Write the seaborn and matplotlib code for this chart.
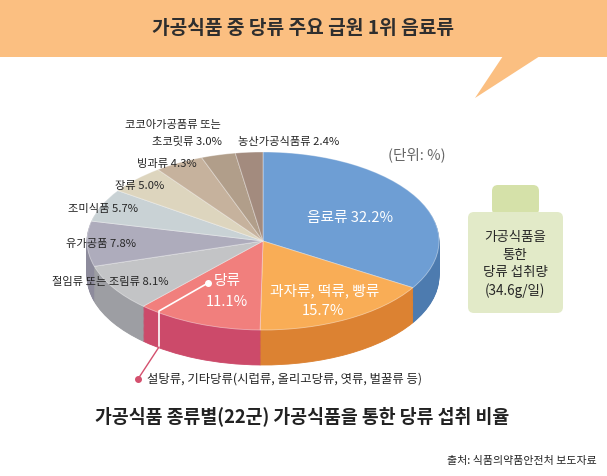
import numpy as np
import matplotlib.pyplot as plt
from matplotlib.patches import Rectangle, Polygon, FancyBboxPatch
import seaborn as sns

sns.set_theme(style="white")
plt.rcParams['font.family'] = ['Noto Sans CJK KR', 'DejaVu Sans']

# 가공식품 종류별 당류 섭취 비율 (%)
categories = ['음료류', '과자류, 떡류, 빵류', '당류', '절임류 또는 조림류', '유가공품',
              '조미식품', '장류', '빙과류', '코코아가공품류 또는 초코릿류', '농산가공식품류']
shares = [32.2, 15.7, 11.1, 8.1, 7.8, 5.7, 5.0, 4.3, 3.0, 2.4]

top_colors = ['#6E9ED4', '#F9AD56', '#F17F7D', '#C3C4C6', '#AEACBC',
              '#C9D2D5', '#DDD5BE', '#C6B29D', '#B19E8A', '#A38B7E']
side_colors = ['#4D7BAF', '#DC8232', '#CC4A6A', '#9D9EA3', '#8D8B9C',
               '#A3AAAD', '#B8B09A', '#A28E7A', '#8E7B69', '#82695D']

title = '가공식품 중 당류 주요 급원 1위 음료류'
subtitle = '가공식품 종류별(22군) 가공식품을 통한 당류 섭취 비율'
source = '출처: 식품의약품안전처 보도자료'
sugar_note = '설탕류, 기타당류(시럽류, 올리고당류, 엿류, 벌꿀류 등)'
total_intake = '가공식품을\n통한\n당류 섭취량\n(34.6g/일)'

W, H = 607, 476
fig = plt.figure(figsize=(W / 100, H / 100), dpi=100)

# 3D 느낌의 파이: 아래층을 어둡게 여러 번 겹쳐 옆면을 만든다
cx, cy, rx, ry, depth = 263, 241, 176, 89, 35
xlo, xhi, ylo, yhi = -1.1, 1.1, -1.7, 1.1
left_px = cx + xlo * rx
top_px = cy - yhi * ry
w_px = (xhi - xlo) * rx
h_px = (yhi - ylo) * ry
pax = fig.add_axes([left_px / W, 1 - (top_px + h_px) / H, w_px / W, h_px / H])

n_layers = 40
for k in range(n_layers, 0, -1):
    off = depth / ry * k / n_layers
    wedges, _ = pax.pie(shares, colors=side_colors, startangle=90, counterclock=False,
                        center=(0, -off), radius=1, wedgeprops=dict(linewidth=0.6))
    for w in wedges:
        w.set_edgecolor(w.get_facecolor())
pax.pie(shares, colors=top_colors, startangle=90, counterclock=False,
        wedgeprops=dict(linewidth=0.6, edgecolor=(1, 1, 1, 0.45)))
pax.set_aspect('auto')
pax.set_xlim(xlo, xhi)
pax.set_ylim(ylo, yhi)
pax.axis('off')

# 글자와 장식용 축 (픽셀 좌표)
ax = fig.add_axes([0, 0, 1, 1], zorder=5)
ax.set_xlim(0, W)
ax.set_ylim(H, 0)
ax.axis('off')
ax.patch.set_alpha(0)

ax.add_patch(Rectangle((0, 0), W, 57, color='#FBBF81', lw=0))
ax.add_patch(Polygon([(503, 56), (540, 56), (475, 98)], closed=True, color='#FBBF81', lw=0))
ax.text(W / 2, 29, title, ha='center', va='center', fontsize=13.8, fontweight='bold', color='#2E2E2E')

lab = dict(fontsize=8.1, color='#262626', va='center', ha='left')
ax.text(125, 125, '코코아가공품류 또는', **lab)
ax.text(152, 142, f'초코릿류 {shares[8]:.1f}%', **lab)
ax.text(238, 142, f'{categories[9]} {shares[9]:.1f}%', **lab)
ax.text(137, 164, f'{categories[7]} {shares[7]:.1f}%', **lab)
ax.text(115, 186, f'{categories[6]} {shares[6]:.1f}%', **lab)
ax.text(68, 209, f'{categories[5]} {shares[5]:.1f}%', **lab)
ax.text(66, 244, f'{categories[4]} {shares[4]:.1f}%', **lab)
ax.text(52, 282, f'{categories[3]} {shares[3]:.1f}%', **lab)

inner = dict(fontsize=10.6, color='white', ha='center', va='center')
ax.text(350, 218, f'{categories[0]} {shares[0]:.1f}%', **inner)
ax.text(325, 291, categories[1], **inner)
ax.text(323, 311, f'{shares[1]:.1f}%', **inner)
ax.text(227, 281, categories[2], **inner)
ax.text(227, 302, f'{shares[2]:.1f}%', **inner)

# 당류 설명 지시선
ax.plot([208, 159, 159], [283, 311, 347], color='white', lw=1.2, zorder=6)
ax.plot([159, 138], [347, 379], color='#D4506E', lw=1.0, zorder=6)
ax.plot([208], [283], 'o', color='white', ms=4, zorder=7)
ax.plot([138], [379], 'o', color='#D4506E', ms=4, zorder=7)
ax.text(147, 379, sugar_note, fontsize=8.9, color='#262626', ha='left', va='center')

ax.text(388, 155, '(단위: %)', fontsize=10.5, color='#666666', ha='left', va='center')

# 섭취량 상자
ax.add_patch(FancyBboxPatch((492, 185), 47, 30, boxstyle='round,pad=0,rounding_size=6',
                            fc='#D5E1A9', ec='none'))
ax.add_patch(FancyBboxPatch((468, 212), 95, 101, boxstyle='round,pad=0,rounding_size=6',
                            fc='#E2EAC8', ec='none'))
ax.text(515, 264, total_intake, fontsize=9.7, color='#262626', ha='center', va='center',
        linespacing=1.35)

ax.text(W / 2 - 1, 416, subtitle, fontsize=13.2, fontweight='bold', color='#222222',
        ha='center', va='center')
ax.text(597, 461, source, fontsize=7.9, color='#262626', ha='right', va='center')

fig.savefig('out.png', dpi=100)
